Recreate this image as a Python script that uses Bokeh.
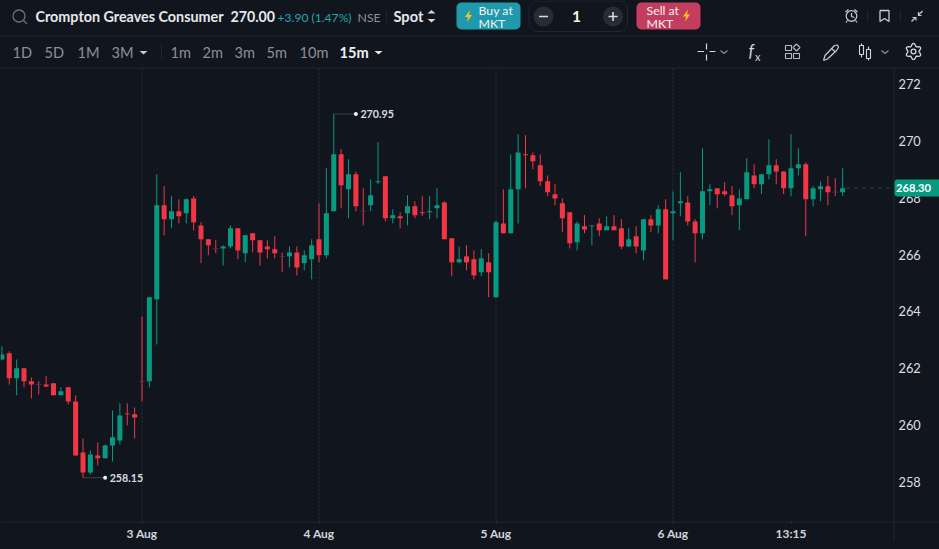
import numpy as np
from bokeh.core.properties import value
from bokeh.embed import file_html
from bokeh.models import ColumnDataSource, FixedTicker, Range1d
from bokeh.plotting import figure
from bokeh.resources import INLINE

# ---------- data ----------
first_index = -19
opens = [262.31,262.53,261.65,262.00,261.54,261.43,261.43,261.47,261.05,261.33,260.83,259.04,258.33,258.93,258.83,259.28,259.46,260.41,260.38,
 261.54,261.54,264.43,267.74,267.25,267.53,267.46,267.98,267.03,266.54,266.21,266.22,266.29,266.93,266.05,266.75,266.51,266.29,266.19,265.94,265.94,266.08,265.70,265.84,266.54,
 265.98,267.53,269.53,268.30,268.83,267.53,267.74,268.55,268.76,267.28,267.35,267.46,267.70,267.49,267.49,267.63,267.84,266.58,265.73,265.94,265.84,265.38,265.73,
 264.50,267.10,266.75,268.30,269.53,269.50,269.15,268.58,268.13,267.81,267.49,266.44,267.00,267.00,267.10,266.86,267.00,266.93,266.29,266.65,266.15,267.25,267.03,267.60,
 267.46,267.81,267.84,267.17,266.75,268.23,268.34,268.23,268.09,267.74,267.95,268.79,268.48,268.83,269.15,268.93,268.34,269.04,269.18,267.95,268.30,268.41,268.20,268.20]
highs = [262.77,262.60,262.31,262.00,261.68,261.54,261.72,261.47,261.33,261.33,261.05,259.53,259.11,259.39,259.32,260.52,260.77,260.77,260.62,
 263.83,264.50,268.83,268.41,268.06,267.95,267.98,268.06,267.14,266.54,266.51,266.33,267.03,266.93,266.68,266.75,266.51,266.51,266.65,266.08,266.29,266.29,266.15,266.54,267.81,
 269.04,270.95,269.71,269.36,268.93,268.34,268.65,269.96,268.76,267.60,267.49,268.09,267.88,268.06,268.06,268.34,267.88,266.58,266.29,266.33,266.15,266.19,266.05,
 267.21,268.30,269.53,270.24,270.20,269.60,269.53,268.79,268.48,267.98,267.49,267.17,267.39,267.03,267.28,267.35,267.39,267.25,266.93,267.00,267.25,267.39,267.74,267.95,
 268.23,268.90,268.06,267.25,269.75,268.48,268.34,268.55,268.41,268.30,269.39,269.18,268.83,270.06,269.36,268.93,270.24,269.75,269.25,268.41,268.58,268.76,268.69,269.04]
lows = [262.31,261.43,261.05,261.33,260.94,261.08,261.33,261.05,261.05,260.73,258.93,258.15,258.26,258.58,258.83,258.72,259.32,259.99,259.53,
 260.83,261.33,262.84,266.68,266.93,267.10,267.10,266.86,265.70,265.98,266.05,265.62,266.22,265.84,265.73,266.08,265.62,265.87,265.87,265.38,265.55,265.27,265.45,265.13,265.73,
 265.87,267.53,267.63,267.28,267.53,267.03,267.53,268.48,267.17,267.10,266.93,267.03,267.28,267.35,267.25,267.28,266.54,265.24,265.70,265.45,265.13,265.24,264.50,
 264.50,266.75,266.75,267.10,268.34,269.01,268.41,268.06,267.74,266.79,266.22,266.15,266.75,266.33,266.65,266.86,266.86,266.19,266.29,266.05,265.80,266.79,266.75,265.13,
 266.51,267.35,267.03,265.73,266.54,267.74,267.63,268.06,267.39,266.86,267.95,268.34,268.13,268.65,268.48,268.13,268.06,268.79,266.65,267.70,267.88,267.74,268.06,268.06]
closes = [262.49,261.65,262.00,261.54,261.43,261.43,261.36,261.05,261.19,260.83,258.93,258.33,258.97,258.83,259.28,259.57,260.34,260.38,260.27,
 261.54,264.50,267.74,267.25,267.53,267.35,267.95,267.14,266.54,266.33,266.21,266.29,266.93,266.15,266.68,266.51,266.08,266.19,266.05,265.94,266.08,265.55,265.98,266.33,265.98,
 267.46,269.53,268.44,268.83,267.70,267.53,268.09,268.58,267.28,267.39,267.28,267.70,267.39,267.46,267.53,267.74,266.54,265.73,265.84,265.73,265.27,265.87,265.38,
 267.14,266.75,268.30,269.60,269.50,269.29,268.58,268.20,267.98,267.28,266.40,267.10,266.89,267.03,266.86,267.00,266.86,266.29,266.54,266.29,267.25,267.03,267.60,265.13,
 267.53,267.88,267.17,266.75,268.23,268.30,268.13,268.13,267.70,267.98,268.90,268.48,268.83,269.15,268.93,268.34,269.04,269.18,267.95,268.34,268.41,268.20,268.20,268.34]

y_ticks = [258, 260, 262, 264, 266, 268, 270, 272]
x_ticks = {0: "3 Aug", 24: "4 Aug", 48: "5 Aug", 72: "6 Aug", 88: "13:15"}
day_starts = [0, 24, 48, 72]
high_label, low_label, last_label = "270.95", "258.15", "268.30"

# ---------- styles ----------
BG = "#11161e"
RULE = "#21262e"
GREEN = "#089981"
RED = "#f23645"
FONT = "Lato"
W, H = 939, 549
CHART_TOP, CHART_BOTTOM, CHART_RIGHT = 68, 521, 893
CANDLE_STEP = 7.375
X0_PX = 141.5
Y272_PX, PX_PER_UNIT = 83.7, 28.41


def x_at(px):
    return (px - X0_PX) / CANDLE_STEP


def y_at(px):
    return 272 - (px - Y272_PX) / PX_PER_UNIT


# ---------- single figure: the price scales fill the canvas, chrome uses a pixel range ----------
p = figure(width=W, height=H, x_range=Range1d(x_at(0), x_at(W)), y_range=Range1d(y_at(H), y_at(0)),
           y_axis_location="right", output_backend="svg", toolbar_location=None, min_border=0,
           background_fill_color=BG, border_fill_color=BG, outline_line_color=None,
           styles={"position": "fixed", "left": "0px", "top": "0px", "background-color": BG})
p.extra_x_ranges["px"] = Range1d(0, W)
p.extra_y_ranges["px"] = Range1d(H, 0)
PX = dict(x_range_name="px", y_range_name="px")
p.grid.visible = False

o, h, l, c = map(np.array, (opens, highs, lows, closes))
idx = np.arange(len(o)) + first_index
up = c > o
flat = c == o
colors = np.array([GREEN if u else RED for u in up])

# day separators
p.segment(x0=day_starts, x1=day_starts, y0=[y_at(CHART_TOP)] * 4, y1=[y_at(CHART_BOTTOM)] * 4,
          line_color="#2e333b", line_width=1, line_dash="2 2")

# candles
p.segment(x0=idx, x1=idx, y0=h, y1=l, line_color=colors.tolist(), line_width=1)
body = ColumnDataSource(dict(x=idx[~flat], top=np.maximum(o, c)[~flat], bot=np.minimum(o, c)[~flat], color=colors[~flat]))
p.vbar(x="x", top="top", bottom="bot", width=0.68, source=body, fill_color="color", line_color=None)
p.segment(x0=idx[flat] - 0.36, x1=idx[flat] + 0.36, y0=o[flat], y1=o[flat], line_color="#3a3f47", line_width=1)

# last price line
p.segment(x0=[idx[-1] + 0.4], x1=[x_at(CHART_RIGHT)], y0=[c[-1]], y1=[c[-1]], line_color="#1d4a4b",
          line_width=1, line_dash="4 4")

# high/low markers
for i_ext, val, txt in ((int(np.argmax(h)), h.max(), high_label), (int(np.argmin(l)), l.min(), low_label)):
    xe = idx[i_ext]
    p.segment(x0=[xe], x1=[xe + 3], y0=[val], y1=[val], line_color="#3c4149", line_width=1)
    p.scatter(x=[xe + 3], y=[val], size=4, fill_color="#f0f2f4", line_color=None)
    p.text(x=[xe + 3], y=[val], text=[txt], x_offset=4.5, text_baseline="middle", text_font=value(FONT),
           text_font_size="10.7px", text_font_style="bold", text_color="#d9dce0")

# axes, fixed inside the canvas-wide frame
ya = p.yaxis[0]
ya.fixed_location = x_at(CHART_RIGHT)
ya.ticker = FixedTicker(ticks=y_ticks)
ya.major_label_text_font = FONT
ya.major_label_text_font_size = "12.8px"
ya.major_label_text_color = "#dcdfe2"
ya.major_tick_line_color = None
ya.minor_tick_line_color = None
ya.major_tick_out = 0
ya.major_tick_in = 0
ya.axis_line_color = None
ya.major_label_standoff = 5
xa = p.xaxis[0]
xa.fixed_location = y_at(CHART_BOTTOM)
xa.ticker = FixedTicker(ticks=list(x_ticks))
xa.major_label_overrides = x_ticks
xa.major_label_text_font = FONT
xa.major_label_text_font_size = "12px"
xa.major_label_text_font_style = "bold"
xa.major_label_text_color = "#d1d4d8"
xa.major_tick_line_color = "#2e333b"
xa.major_tick_in = 0
xa.major_tick_out = 2
xa.minor_tick_line_color = None
xa.axis_line_color = None
xa.major_label_standoff = 2


def t(x, y, s, size=14, color="#e6e8eb", style="normal", align="left", **kw):
    p.text(x=[x], y=[y], text=[s], text_font=value(FONT), text_font_size=f"{size}px", text_color=color,
           text_font_style=style, text_align=align, text_baseline="middle", **PX, **kw)


def ln(xs, ys, color="#c9ccd1", width=1.2):
    p.line(xs, ys, line_color=color, line_width=width, **PX)


def poly(xs, ys, color):
    p.patch(xs, ys, fill_color=color, line_color=None, **PX)


def bolt(cx, cy):
    poly([cx + d for d in (1.5, -3.5, -0.5, -1.5, 3.5, 0.5)], [cy + d for d in (-6, 1, 1, 6, -1, -1)], "#f6c21c")


# chart rules
ln([0, W], [CHART_BOTTOM + 0.5, CHART_BOTTOM + 0.5], RULE, 1)
ln([CHART_RIGHT + 0.5, CHART_RIGHT + 0.5], [CHART_TOP, 541], RULE, 1)

# last price badge above the axis labels
p.quad(left=[894], right=[945], top=[179], bottom=[196], fill_color=GREEN, line_color=None, border_radius=3,
       level="overlay", **PX)
p.text(x=[895.5], y=[187.5], text=[last_label], text_font=value(FONT), text_font_size="11.2px", text_font_style="bold",
       text_color="#ffffff", text_baseline="middle", level="overlay", **PX)

# ---------- header toolbar ----------
ln([0, W], [35.5, 35.5], RULE, 1)
ln([0, W], [67.5, 67.5], RULE, 1)

# first row
p.circle(x=[18.5], y=[15.5], radius=6, fill_color=None, line_color="#6c7179", line_width=1.3, **PX)
ln([23, 26.5], [20, 23.5], "#6c7179", 1.3)
t(35, 16, "Crompton Greaves Consumer", 14.35, style="bold")
t(230, 16, "270.00", 14.2, style="bold")
t(277, 16.5, "+3.90 (1.47%)", 12.1, "#23a4b2")
t(357, 16.5, "NSE", 12.3, "#8b9097")
ln([386, 386], [10, 22], RULE, 1)
t(393, 16, "Spot", 14.6, style="bold")
poly([427, 431, 435], [13, 9.5, 13], "#d5d7da")
poly([427, 431, 435], [18.5, 22, 18.5], "#d5d7da")

p.quad(left=[456], right=[520], top=[2], bottom=[29], fill_color="#1f99ab", line_color=None, border_radius=5, **PX)
bolt(468, 15.5)
t(478, 10, "Buy at", 12.3, "#f2f5f6")
t(478, 23, "MKT", 12.3, "#f2f5f6")

p.quad(left=[528.5], right=[627], top=[0.5], bottom=[31], fill_color=BG, line_color="#22272f", border_radius=8, **PX)
p.circle(x=[543, 612.5], y=[16, 16], radius=10, fill_color="#282d35", line_color=None, **PX)
ln([538.5, 547.5], [16, 16], "#d9dbde", 1.6)
ln([608, 617], [16, 16], "#d9dbde", 1.6)
ln([612.5, 612.5], [11.5, 20.5], "#d9dbde", 1.6)
t(576, 16, "1", 15.5, "#f0f1f3", "bold", "center")

p.quad(left=[636], right=[700], top=[2], bottom=[29], fill_color="#c43c5e", line_color=None, border_radius=5, **PX)
bolt(686, 15)
t(646, 10, "Sell at", 12.3, "#f2f5f6")
t(646, 23, "MKT", 12.3, "#f2f5f6")

p.circle(x=[851], y=[15.5], radius=5.3, fill_color=None, line_color="#c9ccd1", line_width=1.2, **PX)
ln([851, 851, 854], [12.5, 16, 17])
ln([845, 848], [11.5, 9])
ln([854, 857], [9, 11.5])
ln([847, 845.5], [20, 22])
ln([855, 856.5], [20, 22])
ln([867, 867], [10, 21], RULE, 1)
ln([879.5, 888.5, 888.5, 884, 879.5, 879.5], [10, 10, 21, 18, 21, 10], "#c9ccd1", 1.3)
ln([900, 900], [10, 21], RULE, 1)
ln([922, 917.5], [10.5, 15])
ln([918, 918, 921], [11.5, 15, 15])
ln([911, 915], [21, 17])
ln([912, 915.5, 915.5], [17, 17, 20])

# second row
for x0, s in ((12, "1D"), (44, "5D"), (77, "1M"), (111, "3M"), (170, "1m"), (202, "2m"), (234, "3m"), (266, "5m"), (299, "10m")):
    t(x0, 52, s, 14.6, "#8b9097")
t(339, 52, "15m", 14.6, "#f0f1f3", "bold")
poly([139, 147, 143], [50.5, 50.5, 54], "#c9ccd1")
poly([374, 382, 378], [50.5, 50.5, 54], "#e6e8eb")
ln([161, 161], [43, 59], RULE, 1)

ln([697, 703.5], [51, 51], "#d5d7da", 1.2)
ln([709, 715], [51, 51], "#d5d7da", 1.2)
ln([706, 706], [43, 49], "#d5d7da", 1.2)
ln([706, 706], [54, 60], "#d5d7da", 1.2)
ln([720, 723.5, 727], [50, 53, 50], "#8b9097", 1.1)
t(748, 50, "f", 17, "#d5d7da", "italic")
t(754.5, 56, "x", 11, "#d5d7da")
p.quad(left=[785, 785, 793], right=[791, 791, 799], top=[45, 53, 53], bottom=[50, 58, 58],
       fill_color=None, line_color="#b9bcc1", line_width=1.1, **PX)
ln([796, 799.5, 796, 792.5, 796], [43.5, 47, 50.5, 47, 43.5], "#b9bcc1", 1.1)
ln([823, 824.5, 834, 837, 838, 836, 827, 823], [60, 55, 45, 44.5, 47, 50, 58.5, 60], "#c9ccd1", 1.2)
ln([831, 835], [48, 51.5], "#c9ccd1", 1.1)
for cx, t0, b0, w0, w1 in ((861, 45, 54, 43, 57), (868, 49, 58, 46, 60)):
    ln([cx, cx], [w0, t0], "#d5d7da", 1.1)
    ln([cx, cx], [b0, w1], "#d5d7da", 1.1)
    p.quad(left=[cx - 2], right=[cx + 2], top=[t0], bottom=[b0], fill_color=None, line_color="#d5d7da", line_width=1.1, **PX)
ln([881, 884.5, 888], [50, 53, 50], "#8b9097", 1.1)
ang = np.linspace(0, 2 * np.pi, 49)
rad = 6.8 + 1.3 * np.cos(6 * ang)
ln((913 + rad * np.sin(ang)).tolist(), (51 + rad * np.cos(ang)).tolist(), "#d5d7da", 1.3)
p.circle(x=[913], y=[51], radius=2.4, fill_color=None, line_color="#d5d7da", line_width=1.3, **PX)

open("out.html", "w").write(file_html(p, INLINE))
